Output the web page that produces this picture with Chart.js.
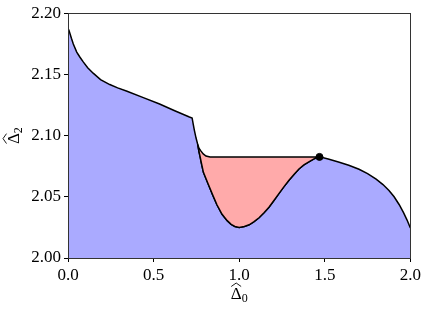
<!DOCTYPE html>
<html>
<head>
<meta charset="utf-8">
<script src="https://cdn.jsdelivr.net/npm/chart.js@4"></script>
<style>
html,body{margin:0;padding:0;background:#fff;}
#wrap{width:424px;height:309px;position:relative;}
</style>
</head>
<body>
<div id="wrap"><canvas id="c" width="424" height="309"></canvas></div>
<script>
// Upper branch: from x=0 down to the split point
const headX = [0.004, 0.02, 0.031, 0.051, 0.07, 0.089, 0.115, 0.147, 0.19, 0.244, 0.29, 0.341, 0.44, 0.535, 0.62, 0.709, 0.725, 0.732, 0.738, 0.748, 0.758];
const headY = [2.1868, 2.1795, 2.1749, 2.1682, 2.164, 2.1602, 2.1555, 2.151, 2.1458, 2.1417, 2.139, 2.1364, 2.131, 2.1258, 2.1205, 2.1152, 2.1144, 2.109, 2.1045, 2.098, 2.0926];
// Dip branch: from split point to the marked point
const dipX = [0.765, 0.771, 0.78, 0.791, 0.82, 0.845, 0.87, 0.90, 0.93, 0.953, 0.975, 1.0, 1.03, 1.058, 1.085, 1.116, 1.145, 1.174, 1.203, 1.233, 1.262, 1.291, 1.32, 1.349, 1.378, 1.407, 1.437, 1.469];
const dipY = [2.087, 2.0833, 2.077, 2.070, 2.060, 2.0516, 2.0435, 2.0357, 2.0305, 2.0275, 2.0258, 2.025, 2.0258, 2.0271, 2.0295, 2.0329, 2.037, 2.0415, 2.047, 2.0528, 2.0583, 2.0635, 2.0683, 2.0727, 2.076, 2.0786, 2.081, 2.0826];
// Tail: from the marked point to x=2
const tailX = [1.52, 1.58, 1.64, 1.70, 1.75, 1.80, 1.84, 1.875, 1.905, 1.935, 1.96, 1.98, 2.0];
const tailY = [2.0808, 2.0785, 2.0758, 2.0725, 2.069, 2.0645, 2.060, 2.0552, 2.050, 2.0435, 2.037, 2.0312, 2.0245];
// Inner branch (upper edge of red region): split point to flat line
const innerX = [0.758, 0.766, 0.777, 0.79, 0.806, 0.83, 1.469];
const innerY = [2.0926, 2.0895, 2.0873, 2.085, 2.0833, 2.0826, 2.0826];
// Marked point
const markX = [1.469];
const markY = [2.0826];
// Ticks
const xTicks = [0.0, 0.5, 1.0, 1.5, 2.0];
const yTicks = [2.00, 2.05, 2.10, 2.15, 2.20];
// Axis titles: symbol + subscript
const xTitle = ['Δ', '0'];
const yTitle = ['Δ', '2'];

const pts = (xs, ys) => xs.map((x, i) => ({x: x, y: ys[i]}));
const envelope = pts(headX, headY).concat(pts(dipX, dipY), pts(tailX, tailY));
const redShape = pts(innerX, innerY).concat(pts(dipX, dipY).reverse(), [{x: headX[headX.length-1], y: headY[headY.length-1]}]);

const FONT = "'Liberation Serif', 'DejaVu Serif', serif";

function drawHatTitle(ctx, parts) {
  // draws centered at (0,0) with baseline y=0
  ctx.font = "17px " + FONT;
  const wMain = ctx.measureText(parts[0]).width;
  ctx.font = "12px " + FONT;
  const wSub = ctx.measureText(parts[1]).width;
  const total = wMain + wSub;
  const x0 = -total / 2;
  ctx.fillStyle = '#000';
  ctx.textBaseline = 'alphabetic';
  ctx.textAlign = 'left';
  ctx.font = "17px " + FONT;
  ctx.fillText(parts[0], x0, 0);
  ctx.font = "12px " + FONT;
  ctx.fillText(parts[1], x0 + wMain, 3);
  // wide hat
  ctx.beginPath();
  ctx.strokeStyle = '#000';
  ctx.lineWidth = 0.9;
  ctx.moveTo(x0 + 0.5, -12.5);
  ctx.lineTo(x0 + wMain / 2, -16);
  ctx.lineTo(x0 + wMain - 0.5, -12.5);
  ctx.stroke();
}

const frame = {
  id: 'frame',
  afterDatasetsDraw(chart) {
    const a = chart.chartArea, ctx = chart.ctx;
    ctx.save();
    ctx.strokeStyle = '#333';
    ctx.lineWidth = 1;
    ctx.strokeRect(Math.round(a.left) + 0.5, Math.round(a.top) + 0.5, Math.round(a.right - a.left), Math.round(a.bottom - a.top));
    ctx.restore();
  },
  afterDraw(chart) {
    const a = chart.chartArea, ctx = chart.ctx;
    ctx.save();
    ctx.translate((a.left + a.right) / 2, 299);
    drawHatTitle(ctx, xTitle);
    ctx.restore();
    ctx.save();
    ctx.translate(19, (a.top + a.bottom) / 2);
    ctx.rotate(-Math.PI / 2);
    drawHatTitle(ctx, yTitle);
    ctx.restore();
  }
};

new Chart(document.getElementById('c'), {
  type: 'line',
  data: {
    datasets: [
      {
        type: 'scatter', data: pts(markX, markY), pointRadius: 3.5, pointBackgroundColor: '#000',
        pointBorderColor: '#000', showLine: false, order: 0
      },
      {
        data: redShape, borderColor: '#000', borderWidth: 1.5, backgroundColor: '#ffaaaa',
        fill: 'shape', pointRadius: 0, tension: 0, order: 1
      },
      {
        data: envelope, borderColor: '#000', borderWidth: 1.5, backgroundColor: '#aaaaff',
        fill: 'start', pointRadius: 0, tension: 0, order: 2
      }
    ]
  },
  options: {
    responsive: false,
    animation: false,
    events: [],
    layout: {padding: {top: 6, right: 12, left: 0, bottom: 0}},
    plugins: {legend: {display: false}, tooltip: {enabled: false}},
    scales: {
      x: {
        type: 'linear', min: 0, max: 2,
        afterFit(s) { s.height = 51; },
        afterBuildTicks(s) { s.ticks = xTicks.map(v => ({value: v})); },
        grid: {display: true, drawOnChartArea: false, tickLength: 4, tickColor: '#000', tickWidth: 1},
        border: {display: false},
        ticks: {color: '#000', padding: 3, maxRotation: 0, font: {family: FONT, size: 17},
          callback: v => Number(v).toFixed(1)},
        title: {display: false}
      },
      y: {
        type: 'linear', min: 2.0, max: 2.2,
        afterFit(s) { s.width = 68; },
        afterBuildTicks(s) { s.ticks = yTicks.map(v => ({value: v})); },
        grid: {display: true, drawOnChartArea: false, tickLength: 4, tickColor: '#000', tickWidth: 1},
        border: {display: false},
        ticks: {color: '#000', padding: 3, font: {family: FONT, size: 17},
          callback: v => Number(v).toFixed(2)},
        title: {display: false}
      }
    }
  },
  plugins: [frame]
});
</script>
</body>
</html>
